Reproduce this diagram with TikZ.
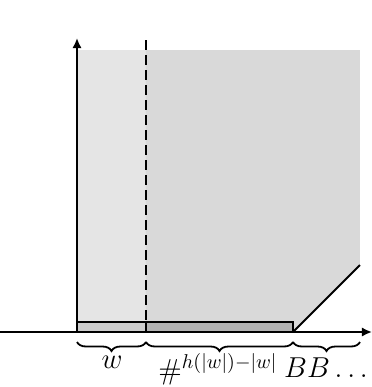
\documentclass[tikz,border=0pt]{standalone}
\usetikzlibrary{arrows.meta,decorations.pathreplacing}
\begin{document}
\begin{tikzpicture}[x=0.5pt,y=-0.5pt,
  axis/.style={line width=1.2pt,-{Latex[length=5pt,width=4.6pt]}},
  brc/.style={decorate,decoration={brace,mirror,amplitude=4.5pt},line width=0.9pt},
  lbl/.style={anchor=base,inner sep=0pt,font=\fontsize{14.5}{17}\selectfont}]
\useasboundingbox (0,0) rectangle (371,387);
% regions
\fill[black!10] (77,50) rectangle (146,332);
\fill[black!15] (146,50) -- (360,50) -- (360,265) -- (293,332) -- (146,332) -- cycle;
% bar
\filldraw[fill=black!20,line width=1pt] (77,322) rectangle (146,332);
\filldraw[fill=black!30,line width=1pt] (146,322) rectangle (293,332);
% coordinates
\coordinate (o) at (77,332);
\coordinate (ytip) at (77,38);
\coordinate (xs) at (0,332);
\coordinate (xtip) at (372,332);
\coordinate (d1) at (146,40);
\coordinate (d2) at (146,332);
\coordinate (e) at (293,332);
\coordinate (f) at (360,265);
\coordinate (b0) at (77,342);
\coordinate (b1) at (146,342);
\coordinate (b2) at (293,342);
\coordinate (b3) at (360,342);
% diagonal
\draw[line width=1pt] (e) -- (f);
% dashed line
\draw[line width=1.1pt,dash pattern=on 5pt off 2.5pt] (d1) -- (d2);
% axes
\draw[axis] (xs) -- (xtip);
\draw[axis] (o) -- (ytip);
% braces
\draw[brc] (b0) -- (b1);
\draw[brc] (b1) -- (b2);
\draw[brc] (b2) -- (b3);
% labels
\node[lbl] (lw) at (112,368) {$w$};
\node[lbl] (lh) at (218,379) {$\#^{h(|w|)-|w|}$};
\node[lbl] (lb) at (326,377) {$BB\ldots$};
\end{tikzpicture}
\end{document}
